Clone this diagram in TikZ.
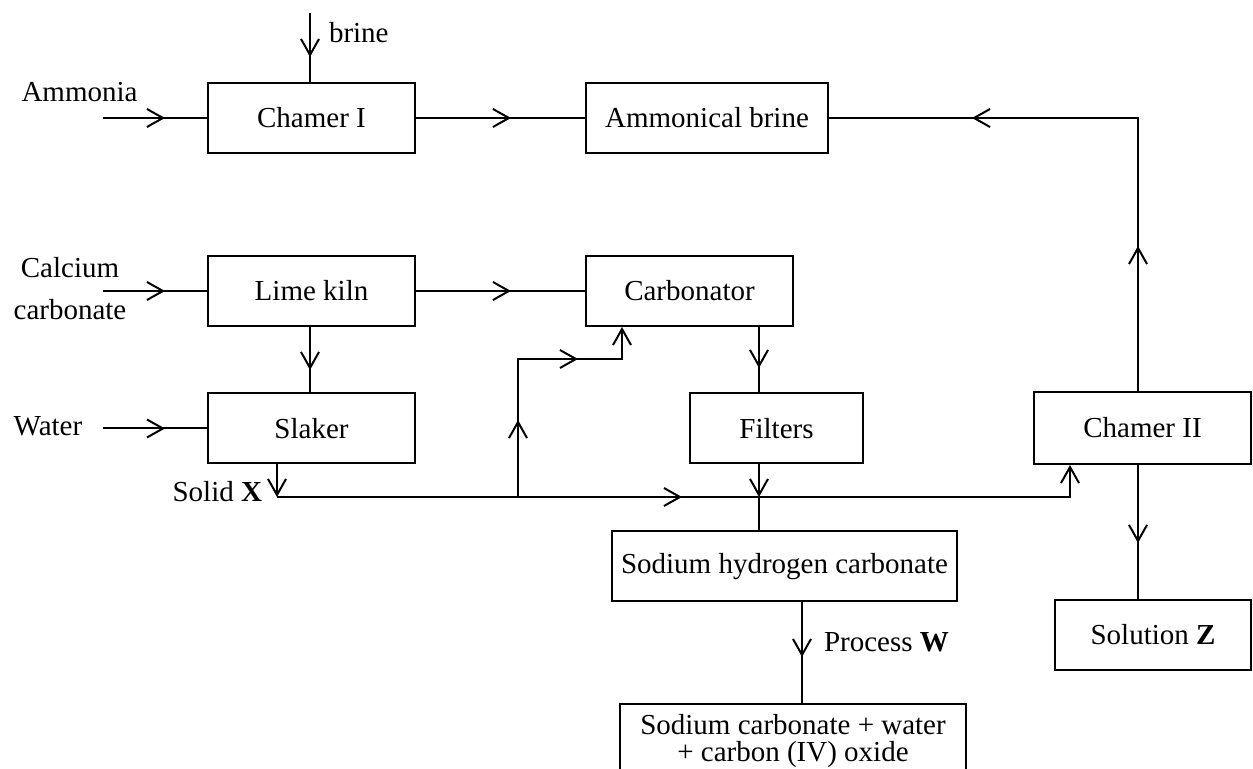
\documentclass[tikz,border=0pt]{standalone}
\usepackage{fontspec}
\setmainfont{Liberation Serif}
\usetikzlibrary{arrows.meta}
\usetikzlibrary{decorations.markings}

\begin{document}
\begin{tikzpicture}[x=0.5pt, y=-0.5pt, line width=1pt,
    >={Straight Barb[length=8pt,width=9pt]},
    font=\fontsize{14.5}{17}\selectfont,
    main/.style = {draw, minimum height=35pt, inner sep=0pt},
    lbl/.style = {inner sep=0pt},
    mid/.style = {postaction={decorate, decoration={markings, mark=at position #1 with {\arrow{>}}}}}]
    \useasboundingbox (0,0) rectangle (1253,769);
    % Nodes

    \node[main, minimum width=103.5pt] (1) at (311.5,118) {Chamer I};
    \node[main, minimum width=121pt] (2) at (707,118) {Ammonical brine};
    \node[main, minimum width=103.5pt] (3) at (311.5,291) {Lime kiln};
    \node[main, minimum width=103.5pt] (4) at (689.5,291) {Carbonator};
    \node[main, minimum width=103.5pt] (5) at (311.5,428.5) {Slaker};
    \node[main, minimum width=86.5pt] (6) at (776.5,428.5) {Filters};
    \node[main, minimum width=108.5pt, minimum height=36pt] (7) at (1142.5,428) {Chamer II};
    \node[main, minimum width=172.5pt] (8) at (784.5,566.5) {Sodium hydrogen carbonate};
    \node[main, minimum width=98pt] (9) at (1153,635) {Solution \textbf{Z}};
    \node[main, minimum width=173pt, minimum height=37.5pt, align=center] (10) at (793,741.5)
        {Sodium carbonate + water\\[-3.5pt] + carbon (IV) oxide};

    \node[lbl] (a) at (79.5,92) {Ammonia};
    \node[lbl, anchor=west] (b) at (328,33) {brine};
    \node[lbl, align=center] (c) at (70,289) {Calcium\\[4pt]carbonate};
    \node[lbl] (d) at (48,426) {Water};
    \node[lbl, anchor=east] (e) at (263,492) {Solid \textbf{X}};
    \node[lbl, anchor=west] (f) at (823,642) {Process \textbf{W}};

    \coordinate (i1) at (103,118);
    \coordinate (i2) at (310,13);
    \coordinate (i3) at (103,291);
    \coordinate (i4) at (103,428.5);
    \coordinate (j1) at (1138,118);
    \coordinate (j2) at (277,497);
    \coordinate (j3) at (518,497);
    \coordinate (j4) at (518,359);
    \coordinate (j5) at (622,359);
    \coordinate (j6) at (759,497);
    \coordinate (j7) at (1070,497);
    \coordinate (j8) at (802,601);

    % Edges

    \draw[mid=31pt] (i1) -- (1);
    \draw[mid=22pt] (i2) -- (i2 |- 1.north);
    \draw[mid=47.5pt] (1) -- (2);
    \draw[mid=72.5pt, mid=219.5pt] (7.north -| j1) -- (j1) -- (2);

    \draw[mid=31pt] (i3) -- (3);
    \draw[mid=47.5pt] (3) -- (4);
    \draw[mid=21.5pt] (3.south -| i2) -- (5.north -| i2);
    \draw[mid=31pt] (i4) -- (5);

    \draw[->] (j2 |- 5.south) -- (j2);
    \draw[mid=202.5pt, ->] (j2) -- (j7) -- (7.south -| j7);
    \draw[mid=38.5pt, mid=99pt, ->] (j3) -- (j4) -- (j5) -- (4.south -| j5);

    \draw[mid=20.5pt] (4.south -| j6) -- (6.north -| j6);
    \draw[->] (6.south -| j6) -- (j6);
    \draw (j6) -- (8.north -| j6);
    \draw[mid=28pt] (j8) -- (10.north -| j8);
    \draw[mid=39pt] (7.south -| j1) -- (9.north -| j1);

\end{tikzpicture}
\end{document}
